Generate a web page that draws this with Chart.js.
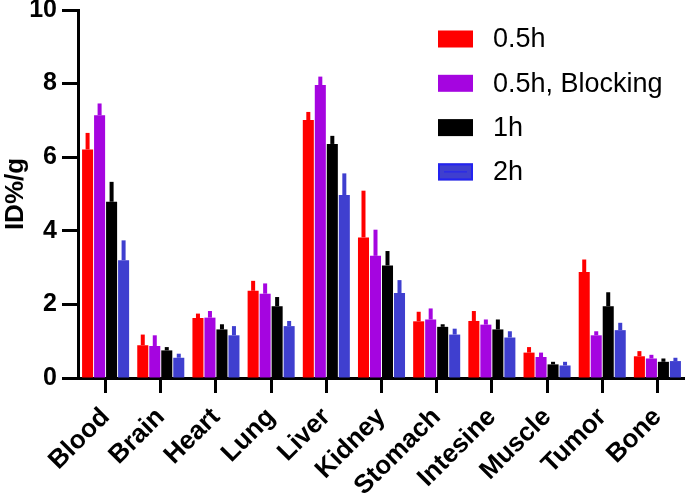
<!DOCTYPE html>
<html>
<head>
<meta charset="utf-8">
<script src="https://cdn.jsdelivr.net/npm/chart.js@4"></script>
<style>
  html, body { margin: 0; padding: 0; background: #fff; }
  #wrap { width: 685px; height: 500px; }
</style>
</head>
<body>
<div id="wrap"><canvas id="chart"></canvas></div>
<script>
const organs = ['Blood', 'Brain', 'Heart', 'Lung', 'Liver', 'Kidney', 'Stomach', 'Intesine', 'Muscle', 'Tumor', 'Bone'];

// mean ID%/g
const h05      = [6.21, 0.89, 1.63, 2.37, 7.01, 3.82, 1.54, 1.55, 0.69, 2.88, 0.59];
const h05Block = [7.14, 0.87, 1.64, 2.29, 7.96, 3.32, 1.59, 1.45, 0.57, 1.16, 0.53];
const h1       = [4.79, 0.75, 1.32, 1.95, 6.36, 3.06, 1.39, 1.32, 0.37, 1.95, 0.44];
const h2       = [3.20, 0.55, 1.16, 1.41, 4.97, 2.31, 1.18, 1.10, 0.34, 1.30, 0.46];

// upper error (SD)
const h05Err      = [0.45, 0.29, 0.12, 0.27, 0.22, 1.27, 0.26, 0.27, 0.15, 0.34, 0.14];
const h05BlockErr = [0.32, 0.29, 0.18, 0.28, 0.23, 0.71, 0.30, 0.14, 0.12, 0.11, 0.10];
const h1Err       = [0.54, 0.09, 0.14, 0.25, 0.22, 0.39, 0.07, 0.27, 0.07, 0.38, 0.09];
const h2Err       = [0.54, 0.11, 0.25, 0.14, 0.59, 0.35, 0.16, 0.17, 0.10, 0.20, 0.09];

const yTicks = [0, 2, 4, 6, 8, 10];

const FONT = '"Liberation Sans", Arial, sans-serif';

// upper-only error whiskers, same colour as the bar
const errorBars = {
    id: 'errorBars',
    afterDatasetsDraw(chart) {
        const ctx = chart.ctx;
        const yScale = chart.scales.y;
        chart.data.datasets.forEach((ds, i) => {
            const meta = chart.getDatasetMeta(i);
            ctx.save();
            ctx.fillStyle = ds.backgroundColor;
            meta.data.forEach((bar, j) => {
                const top = yScale.getPixelForValue(ds.data[j] + ds.errors[j]);
                ctx.fillRect(bar.x - 2, top, 4, bar.y - top);
            });
            ctx.restore();
        });
    }
};

// legend drawn in the top right corner of the plot
const boxLegend = {
    id: 'boxLegend',
    afterDraw(chart) {
        const ctx = chart.ctx;
        const area = chart.chartArea;
        const x0 = area.left + 360;
        const y0 = 39;
        const step = 44.3;
        ctx.save();
        ctx.font = '27px ' + FONT;
        ctx.textBaseline = 'middle';
        chart.data.datasets.forEach((ds, i) => {
            const cy = y0 + i * step;
            ctx.fillStyle = ds.backgroundColor;
            ctx.fillRect(x0, cy - 8.5, 35, 17);
            if (i === 3) {
                ctx.strokeStyle = '#2323f0';
                ctx.lineWidth = 2;
                ctx.strokeRect(x0 + 1, cy - 7.5, 33, 15);
                ctx.beginPath();
                ctx.moveTo(x0 + 6, cy);
                ctx.lineTo(x0 + 29, cy);
                ctx.lineWidth = 1;
                ctx.stroke();
            }
            ctx.fillStyle = '#000';
            ctx.fillText(ds.label, x0 + 55, cy + 1);
        });
        ctx.restore();
    }
};

function makeSet(label, data, errors, color) {
    return {
        label: label,
        data: data,
        errors: errors,
        backgroundColor: color,
        borderWidth: 0,
        categoryPercentage: 0.87,
        barPercentage: 0.92
    };
}

new Chart(document.getElementById('chart'), {
    type: 'bar',
    data: {
        labels: organs,
        datasets: [
            makeSet('0.5h', h05, h05Err, '#ff0000'),
            makeSet('0.5h, Blocking', h05Block, h05BlockErr, '#a505e0'),
            makeSet('1h', h1, h1Err, '#000000'),
            makeSet('2h', h2, h2Err, '#3f3fcf')
        ]
    },
    options: {
        responsive: true,
        maintainAspectRatio: false,
        animation: false,
        layout: { padding: { top: 10, right: 0, bottom: 0, left: 0 } },
        plugins: {
            legend: { display: false },
            tooltip: { enabled: false }
        },
        scales: {
            x: {
                offset: true,
                grid: {
                    offset: false,
                    drawOnChartArea: false,
                    drawTicks: true,
                    tickLength: 15,
                    tickWidth: 3,
                    tickColor: '#000'
                },
                border: { display: true, width: 3, color: '#000' },
                ticks: {
                    color: '#000',
                    font: { family: FONT, size: 26, weight: 'bold' },
                    minRotation: 45,
                    maxRotation: 45,
                    padding: 9,
                    autoSkip: false
                },
                afterFit(scale) {
                    scale.height = 122;
                    scale.paddingLeft = 0;
                    scale.paddingRight = 0;
                }
            },
            y: {
                min: 0,
                max: 10,
                afterBuildTicks(scale) {
                    scale.ticks = yTicks.map(v => ({ value: v }));
                },
                grid: {
                    drawOnChartArea: false,
                    drawTicks: true,
                    tickLength: 16,
                    tickWidth: 3,
                    tickColor: '#000'
                },
                border: { display: true, width: 3, color: '#000' },
                ticks: {
                    color: '#000',
                    font: { family: FONT, size: 25, weight: 'bold' },
                    padding: 5
                },
                title: {
                    display: true,
                    text: 'ID%/g',
                    color: '#000',
                    font: { family: FONT, size: 26, weight: 'bold' },
                    padding: { top: 0, bottom: 0 }
                },
                afterFit(scale) {
                    scale.width = 78;
                    scale.paddingTop = 0;
                    scale.paddingBottom = 0;
                }
            }
        }
    },
    plugins: [errorBars, boxLegend]
});
</script>
</body>
</html>
